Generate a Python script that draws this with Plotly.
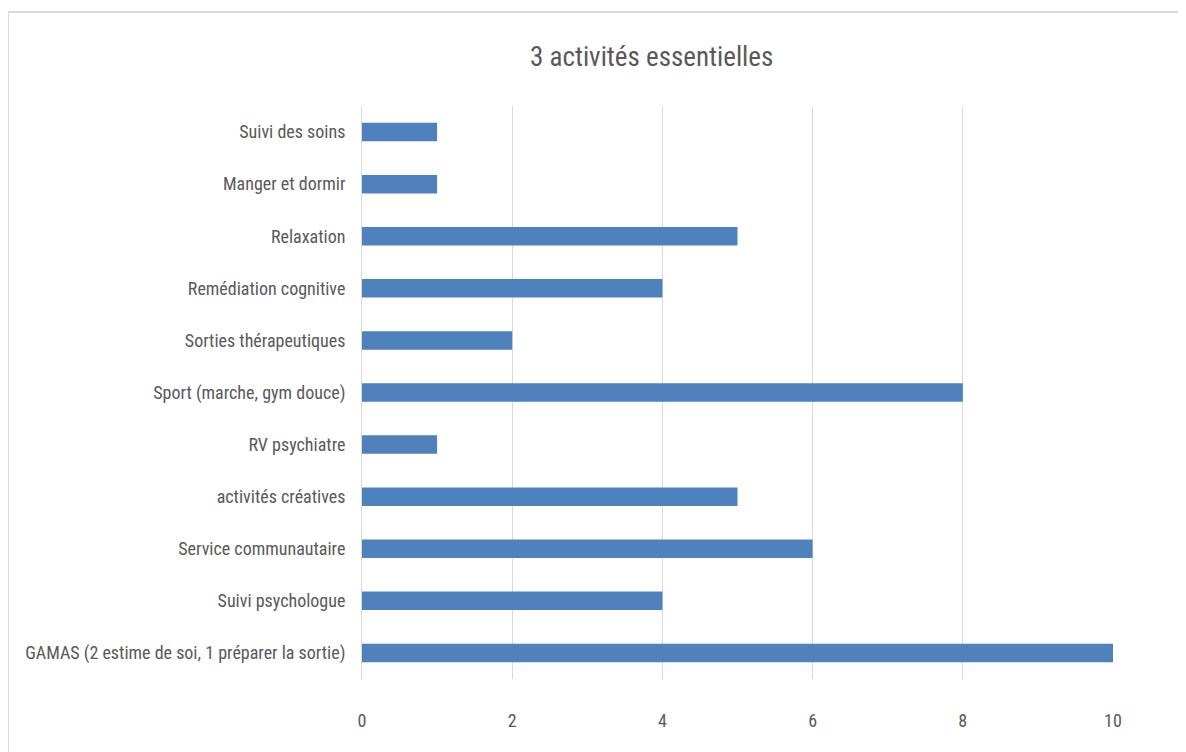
import plotly.graph_objects as go

categories = [
    "GAMAS (2 estime de soi, 1 préparer la sortie)",
    "Suivi psychologue",
    "Service communautaire",
    "activités créatives",
    "RV psychiatre",
    "Sport (marche, gym douce)",
    "Sorties thérapeutiques",
    "Remédiation cognitive",
    "Relaxation",
    "Manger et dormir",
    "Suivi des soins",
]
values = [10, 4, 6, 5, 1, 8, 2, 4, 5, 1, 1]
x_ticks = [0, 2, 4, 6, 8, 10]
title_text = "3 activités essentielles"

FONT = "Roboto Condensed, Roboto, sans-serif"
GREY = "#595959"
LINE = "#d9d9d9"

OFF = 8  # page body margin
W, H = 1186 - OFF, 752 - OFF
L, R, T, B = 362 - OFF, 1113 - OFF, 106 - OFF, 679 - OFF
pw, ph = R - L, B - T

def px_x(x):
    return (x - OFF - L) / pw

def px_y(y):
    return 1 - (y - OFF - T) / ph

fig = go.Figure(go.Bar(
    y=categories, x=values, orientation="h",
    marker=dict(color="#4f81bd", line=dict(width=0)),
    width=0.355,
))

fig.update_layout(
    width=W, height=H,
    margin=dict(l=L, r=W - R, t=T, b=H - B, autoexpand=False),
    paper_bgcolor="white", plot_bgcolor="white",
    showlegend=False,
    font=dict(family=FONT, color=GREY, size=18),
    xaxis=dict(range=[0, 10], tickvals=x_ticks, showgrid=True, gridcolor=LINE,
               gridwidth=1, zeroline=False, showline=False, ticks="",
               ticklabelstandoff=29, tickfont=dict(size=18, color=GREY)),
    yaxis=dict(categoryorder="array", categoryarray=categories, showgrid=False,
               showline=True, linecolor=LINE, linewidth=1, ticks="",
               ticklabelstandoff=12, range=[-0.5, len(categories) - 0.5],
               tickfont=dict(size=18, color=GREY)),
    annotations=[dict(text=title_text, xref="paper", yref="paper",
                      x=px_x(651), y=px_y(57), xanchor="center", yanchor="middle",
                      showarrow=False, font=dict(size=27, color=GREY, family=FONT))],
    shapes=[
        dict(type="line", xref="paper", yref="paper", x0=px_x(8), x1=px_x(8),
             y0=px_y(12), y1=px_y(760), line=dict(color=LINE, width=2)),
        dict(type="line", xref="paper", yref="paper", x0=px_x(8), x1=px_x(1200),
             y0=px_y(12), y1=px_y(12), line=dict(color=LINE, width=2)),
    ],
)

fig.write_html("out.html")
